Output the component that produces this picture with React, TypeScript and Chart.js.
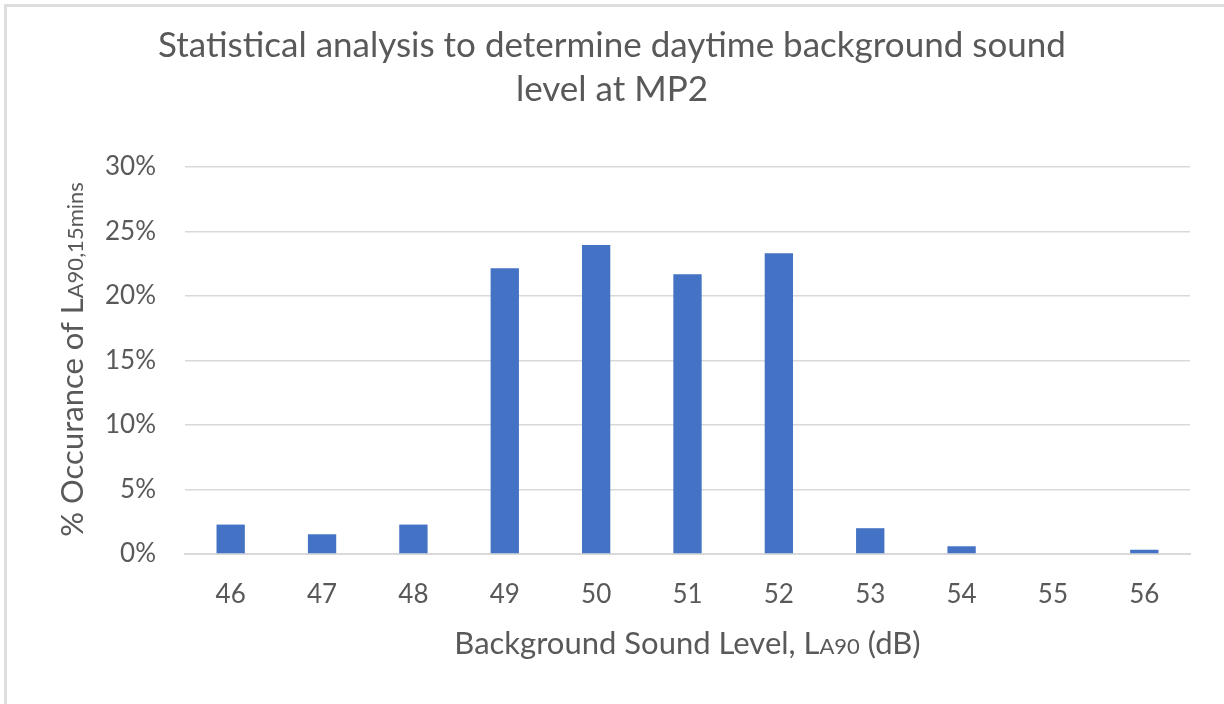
import React, { useEffect, useRef } from "react";
import { Chart, registerables } from "chart.js";

Chart.register(...registerables);

const categories: string[] = ["46", "47", "48", "49", "50", "51", "52", "53", "54", "55", "56"];
const occurrencePct: number[] = [2.28, 1.53, 2.28, 22.15, 23.96, 21.69, 23.32, 2.0, 0.6, 0, 0.33];
const titleLines: string[] = ["Statistical analysis to determine daytime background sound", "level at MP2"];
const xTitleRuns: [string, boolean][] = [["Background Sound Level, L", false], ["A90", true], [" (dB)", false]];
const yTitleRuns: [string, boolean][] = [["% Occurance of L", false], ["A90,15mins", true]];

const FONT = "Lato, 'Open Sans', sans-serif";
const GREY = "#595959";

function drawRuns(ctx: CanvasRenderingContext2D, runs: [string, boolean][], cx: number, baseY: number, big: number, small: number) {
  let total = 0;
  const widths: number[] = [];
  for (const [t, s] of runs) {
    ctx.font = `${s ? small : big}px ${FONT}`;
    const w = ctx.measureText(t).width;
    widths.push(w);
    total += w;
  }
  let x = cx - total / 2;
  ctx.textAlign = "left";
  ctx.textBaseline = "alphabetic";
  runs.forEach(([t, s], i) => {
    ctx.font = `${s ? small : big}px ${FONT}`;
    ctx.fillText(t, x, baseY);
    x += widths[i];
  });
}

const textPlugin = {
  id: "customText",
  afterDraw(chart: any) {
    const ctx: CanvasRenderingContext2D = chart.ctx;
    const area = chart.chartArea;
    ctx.save();
    ctx.fillStyle = GREY;
    // title
    ctx.font = `35px ${FONT}`;
    ctx.textAlign = "center";
    ctx.textBaseline = "alphabetic";
    ctx.fillText(titleLines[0], chart.width / 2, 57);
    ctx.fillText(titleLines[1], chart.width / 2, 101);
    // x title
    drawRuns(ctx, xTitleRuns, (area.left + area.right) / 2, 654, 31, 22);
    // y title
    ctx.save();
    ctx.translate(83, (area.top + area.bottom) / 2 - 1);
    ctx.rotate(-Math.PI / 2);
    drawRuns(ctx, yTitleRuns, 0, 0, 31, 22);
    ctx.restore();
    ctx.restore();
  },
};

export default function App() {
  const ref = useRef<HTMLCanvasElement | null>(null);
  useEffect(() => {
    if (!ref.current) return;
    const chart = new Chart(ref.current, {
      type: "bar",
      data: {
        labels: categories,
        datasets: [
          {
            data: occurrencePct,
            backgroundColor: "#4472C4",
            borderWidth: 0,
            barPercentage: 0.31,
            categoryPercentage: 1,
          },
        ],
      },
      options: {
        responsive: false,
        animation: false,
        layout: { padding: { top: 167, right: 34, left: 0, bottom: 0 } },
        plugins: { legend: { display: false }, tooltip: { enabled: false }, title: { display: false } },
        scales: {
          x: {
            grid: { display: false, drawTicks: false },
            border: { display: true, color: "#d9d9d9", width: 2 },
            ticks: { color: GREY, font: { family: FONT, size: 26 }, padding: 25 },
            afterFit: (s: any) => {
              s.height = 150;
            },
          },
          y: {
            min: 0,
            max: 30,
            ticks: {
              stepSize: 5,
              color: GREY,
              font: { family: FONT, size: 26 },
              padding: 29,
              callback: (v: any) => `${v}%`,
            },
            grid: { color: "#d9d9d9", lineWidth: 1.5, drawTicks: false },
            border: { display: false },
            afterFit: (s: any) => {
              s.width = 185;
            },
          },
        },
      },
      plugins: [textPlugin],
    });
    return () => chart.destroy();
  }, []);
  return (
    <div style={{ position: "fixed", left: 0, top: 0, width: 1224, height: 704, overflow: "hidden", background: "#fff" }}>
      <div style={{ position: "absolute", left: 4, top: 4, width: 1300, height: 800, border: "3px solid #dedede" }} />
      <canvas ref={ref} width={1224} height={704} style={{ position: "absolute", left: 0, top: 0, width: 1224, height: 704 }} />
    </div>
  );
}
